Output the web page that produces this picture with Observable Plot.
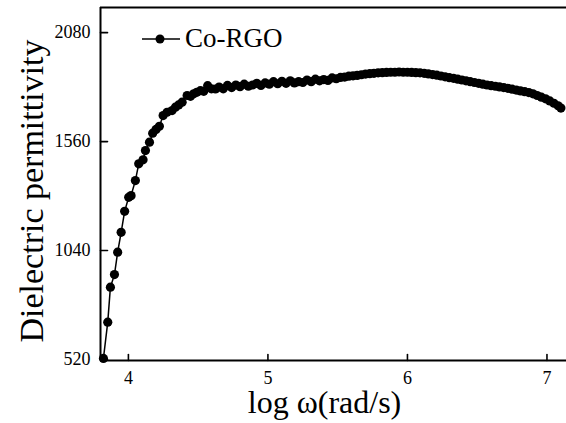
<!DOCTYPE html>
<html>
<head>
<meta charset="utf-8">
<script src="https://cdn.jsdelivr.net/npm/d3@7"></script>
<script src="https://cdn.jsdelivr.net/npm/@observablehq/plot@0.6"></script>
<style>
  html, body { margin: 0; padding: 0; background: #fff; }
  #wrap { position: relative; width: 566px; height: 423px; overflow: hidden; }
  #legend { position: absolute; left: 140px; top: 23px; font-family: "Liberation Serif", "Times New Roman", serif; font-size: 27px; color: #000; display: flex; align-items: center; white-space: nowrap; }
</style>
</head>
<body>
<div id="wrap">
  <div id="chart"></div>
  <div id="legend">
    <svg width="42" height="20" style="margin-right:3px"><line x1="2" y1="10" x2="40" y2="10" stroke="#000" stroke-width="1.6"/><circle cx="20" cy="10" r="4.5" fill="#000"/></svg>
    <span>Co-RGO</span>
  </div>
</div>
<script>
const seriesName = "Co-RGO";
const logOmega = [
  3.821, 3.852, 3.871, 3.900, 3.923, 3.948, 3.973, 4.002, 4.019, 4.050,
  4.074, 4.105, 4.122, 4.151, 4.174, 4.198, 4.222, 4.249, 4.277, 4.313,
  4.337, 4.360, 4.385, 4.421, 4.445, 4.468, 4.490, 4.516, 4.540, 4.568,
  4.595, 4.624,
  4.65, 4.68, 4.71, 4.74, 4.77, 4.80, 4.83, 4.86, 4.89, 4.92,
  4.95, 4.98, 5.01, 5.04, 5.07, 5.10, 5.13, 5.16, 5.19, 5.22,
  5.25, 5.28, 5.31, 5.34, 5.37, 5.40, 5.43, 5.46, 5.49, 5.52,
  5.55, 5.58, 5.61, 5.64, 5.67, 5.70, 5.73, 5.76, 5.79, 5.82,
  5.85, 5.88, 5.91, 5.94, 5.97, 6.00, 6.03, 6.06, 6.09, 6.12,
  6.15, 6.18, 6.21, 6.24, 6.27, 6.30, 6.33, 6.36, 6.39, 6.42,
  6.45, 6.48, 6.51, 6.54, 6.57, 6.60, 6.63, 6.66, 6.69, 6.72,
  6.75, 6.78, 6.81, 6.84, 6.87, 6.90, 6.93, 6.96, 6.99, 7.02,
  7.05, 7.08, 7.10
];
const permittivity = [
  525, 698, 865, 925, 1032, 1127, 1227, 1294, 1302, 1374,
  1454, 1473, 1517, 1557, 1600, 1618, 1633, 1684, 1700, 1708,
  1724, 1735, 1748, 1780, 1776, 1788, 1795, 1803, 1800, 1827,
  1812, 1811,
  1820, 1812, 1828, 1818, 1830, 1822, 1834, 1824, 1830, 1838,
  1828, 1840, 1834, 1846, 1836, 1848, 1838, 1850, 1840, 1846,
  1842, 1854, 1846, 1858, 1850, 1856, 1852, 1864, 1860, 1866,
  1868, 1872, 1874, 1876, 1879, 1882, 1884, 1886, 1888, 1889,
  1890, 1891, 1891, 1892, 1891, 1891, 1890, 1889, 1888, 1886,
  1883, 1880, 1877, 1873, 1869, 1865, 1862, 1858, 1854, 1850,
  1846, 1842, 1838, 1834, 1830, 1827, 1824, 1821, 1818, 1814,
  1810, 1806, 1802, 1798, 1794, 1788, 1780, 1772, 1764, 1754,
  1743, 1731, 1720
];
const xTicks = [4, 5, 6, 7];
const yTicks = [520, 1040, 1560, 2080];
const xDomain = [3.8, 7.14];
const yDomain = [515, 2200];
const xLabel = "log ω(rad/s)";
const yLabel = "Dielectric permittivity";

const data = logOmega.map((x, i) => ({x, y: permittivity[i]}));
const font = "Liberation Serif, Times New Roman, serif";
const tickShape = {draw(context, l) { context.moveTo(0, 0); context.lineTo(0, -l); }};

const chart = Plot.plot({
  width: 566,
  height: 423,
  marginLeft: 100,
  marginRight: 0,
  marginTop: 7,
  marginBottom: 63,
  style: {fontFamily: font, background: "#fff", color: "#000"},
  x: {domain: xDomain},
  y: {domain: yDomain},
  marks: [
    Plot.axisX({ticks: xTicks, tickSize: 0, tickPadding: 11, fontSize: 18, label: null, tickFormat: d => String(d)}),
    Plot.axisY({ticks: yTicks, tickSize: 0, tickPadding: 10, fontSize: 18, label: null, tickFormat: d => String(d)}),
    Plot.vector(xTicks, {x: d => d, frameAnchor: "bottom", length: 6, rotate: 0, anchor: "start", shape: tickShape, stroke: "#000", strokeWidth: 1.6}),
    Plot.vector(yTicks, {y: d => d, frameAnchor: "left", length: 7, rotate: 90, anchor: "start", shape: tickShape, stroke: "#000", strokeWidth: 1.6}),
    Plot.ruleY([yDomain[0]], {stroke: "#000", strokeWidth: 2}),
    Plot.ruleY([yDomain[1]], {stroke: "#000", strokeWidth: 2}),
    Plot.ruleX([xDomain[0]], {stroke: "#000", strokeWidth: 2}),
    Plot.line(data, {x: "x", y: "y", stroke: "#000", strokeWidth: 1.5}),
    Plot.dot(data, {x: "x", y: "y", r: 4.6, fill: "#000", stroke: "none"}),
    Plot.text([xLabel], {frameAnchor: "bottom", text: d => d, fontSize: 32, dx: -9, dy: 52, lineAnchor: "bottom", textAnchor: "middle", fill: "#000"}),
    Plot.text([yLabel], {frameAnchor: "left", text: d => d, fontSize: 34, rotate: -90, dx: -58, dy: 7, lineAnchor: "bottom", textAnchor: "middle", fill: "#000"})
  ]
});
document.getElementById("chart").appendChild(chart);
</script>
</body>
</html>
